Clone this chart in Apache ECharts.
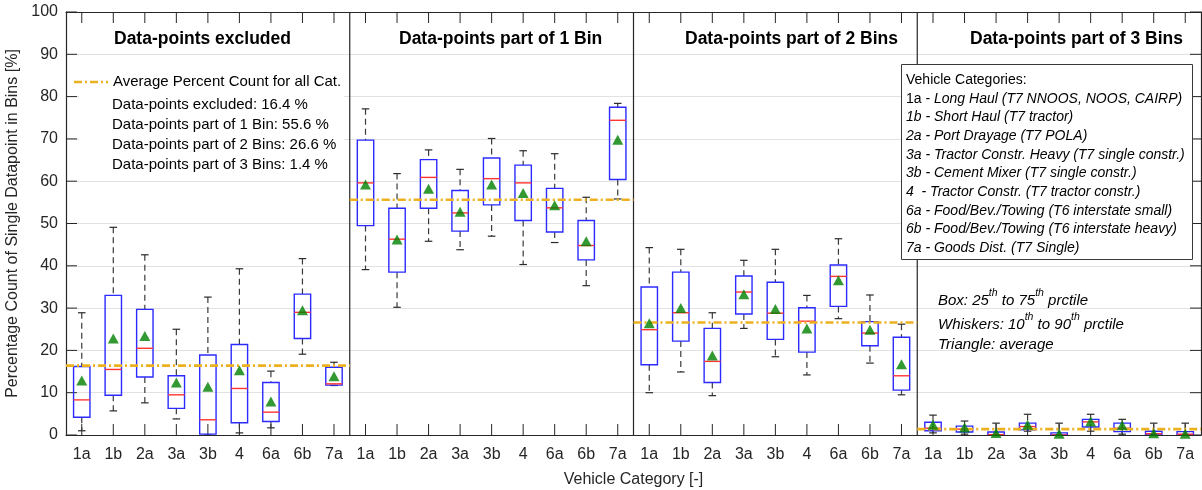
<!DOCTYPE html>
<html>
<head>
<meta charset="utf-8">
<script src="https://cdn.jsdelivr.net/npm/echarts@6/dist/echarts.min.js"></script>
<style>
  html, body { margin: 0; padding: 0; background: #ffffff; }
  #chart { width: 1202px; height: 490px; }
</style>
</head>
<body>
<div id="chart"></div>
<script>
// Vehicle category codes (repeated in every panel)
const vehicleCodes = ['1a', '1b', '2a', '3a', '3b', '4', '6a', '6b', '7a'];

// Value axis tick positions [%]
const yTicks = [0, 10, 20, 30, 40, 50, 60, 70, 80, 90, 100];

// Panel headings and the overall average for each panel [%]
const panelTitles = [
  'Data-points excluded',
  'Data-points part of 1 Bin',
  'Data-points part of 2 Bins',
  'Data-points part of 3 Bins'
];
const panelAverages = [16.4, 55.6, 26.6, 1.4];

// Box statistics per category: [p10, p25, median, p75, p90]
const boxExcluded = [
  [1.0, 4.2, 8.3, 16.2, 28.9],
  [5.7, 9.4, 15.5, 33.0, 49.1],
  [7.6, 13.7, 20.5, 29.7, 42.6],
  [3.8, 6.3, 9.5, 14.0, 25.0],
  [0.0, 0.2, 3.6, 18.9, 32.6],
  [0.5, 2.9, 11.0, 21.4, 39.3],
  [1.7, 3.2, 5.4, 12.4, 15.1],
  [19.1, 22.8, 29.0, 33.3, 41.7],
  [11.7, 11.8, 12.1, 16.0, 17.2]
];
const boxOneBin = [
  [39.1, 49.5, 59.6, 69.7, 77.1],
  [30.2, 38.5, 46.3, 53.6, 61.8],
  [45.8, 53.6, 60.9, 65.1, 67.4],
  [43.8, 48.2, 52.5, 57.8, 62.8],
  [47.0, 54.4, 60.6, 65.5, 70.1],
  [40.3, 50.7, 59.6, 63.8, 67.2],
  [45.5, 48.0, 53.7, 58.3, 66.5],
  [35.3, 41.4, 44.8, 50.7, 56.2],
  [55.8, 60.4, 74.4, 77.5, 78.4]
];
const boxTwoBins = [
  [10.0, 16.6, 24.9, 35.0, 44.3],
  [14.9, 22.2, 28.9, 38.5, 43.9],
  [9.3, 12.4, 17.4, 25.2, 28.9],
  [25.2, 28.6, 33.8, 37.6, 41.3],
  [18.5, 22.6, 28.8, 36.1, 43.9],
  [14.2, 19.6, 26.9, 30.1, 33.0],
  [27.5, 30.4, 37.5, 40.2, 46.4],
  [17.0, 21.1, 24.1, 26.8, 33.1],
  [9.5, 10.6, 14.0, 23.1, 26.2]
];
const boxThreeBins = [
  [0.5, 1.0, 1.6, 3.0, 4.7],
  [0.2, 0.7, 1.4, 2.1, 3.3],
  [0.0, 0.0, 0.1, 0.7, 2.8],
  [0.9, 1.2, 2.0, 2.8, 4.9],
  [0.0, 0.0, 0.0, 0.5, 2.8],
  [0.9, 1.9, 3.1, 3.7, 4.9],
  [0.2, 0.8, 1.6, 2.8, 3.7],
  [0.0, 0.0, 0.3, 0.9, 2.8],
  [0.0, 0.0, 0.2, 0.8, 2.8]
];

// Mean value per category (triangles)
const meanExcluded = [12.9, 22.8, 23.4, 12.4, 11.4, 15.3, 7.9, 29.5, 13.9];
const meanOneBin = [59.2, 46.2, 58.2, 52.8, 59.2, 57.2, 54.3, 45.8, 69.8];
const meanTwoBins = [26.4, 30.0, 18.8, 33.3, 29.8, 25.2, 36.6, 24.9, 16.7];
const meanThreeBins = [2.4, 1.8, 0.5, 2.4, 0.3, 3.2, 2.3, 0.4, 0.3];

// Legend text for the category codes
const categoryDescriptions = [
  ['1a', 'Long Haul (T7 NNOOS, NOOS, CAIRP)'],
  ['1b', 'Short Haul (T7 tractor)'],
  ['2a', 'Port Drayage (T7 POLA)'],
  ['3a', 'Tractor Constr. Heavy (T7 single constr.)'],
  ['3b', 'Cement Mixer (T7 single constr.)'],
  ['4 ', 'Tractor Constr. (T7 tractor constr.)'],
  ['6a', 'Food/Bev./Towing (T6 interstate small)'],
  ['6b', 'Food/Bev./Towing (T6 interstate heavy)'],
  ['7a', 'Goods Dist. (T7 Single)']
];

const panelBoxes = [boxExcluded, boxOneBin, boxTwoBins, boxThreeBins];
const panelMeans = [meanExcluded, meanOneBin, meanTwoBins, meanThreeBins];
const nCat = vehicleCodes.length;

// Flatten into one axis of 36 slots
const axisCategories = [];
const boxData = [];
const meanData = [];
const xTickData = [];
panelBoxes.forEach(function (boxes, p) {
  boxes.forEach(function (b, i) {
    axisCategories.push(vehicleCodes[i]);
    boxData.push([p * nCat + i].concat(b));
    meanData.push([p * nCat + i, panelMeans[p][i]]);
    xTickData.push([p * nCat + i]);
  });
});
const yTickData = yTicks.map(function (v) { return [0, v]; });
const averageData = panelAverages.map(function (v, p) { return [p, v]; });
const dividerData = [[1], [2], [3]];

const FONT = '"Liberation Sans", Arial, Helvetica, sans-serif';
const AXIS_COLOR = '#262626';
const AVG_COLOR = '#EDB120';
const AVG_DASH = [8, 3, 2, 3];
const TICK_LEN = 11;

function renderBox(params, api) {
  const x = api.value(0);
  const band = api.size([1, 0])[0];
  const half = band * 0.26;
  const capHalf = band * 0.12;
  const pts = [1, 2, 3, 4, 5].map(function (d) { return api.coord([x, api.value(d)]); });
  const cx = pts[0][0];
  const y10 = pts[0][1], y25 = pts[1][1], y50 = pts[2][1], y75 = pts[3][1], y90 = pts[4][1];
  const whisker = { stroke: '#3a3a3a', lineWidth: 1.2, lineDash: [6, 4] };
  const cap = { stroke: '#2a2a2a', lineWidth: 1.2 };
  return {
    type: 'group',
    children: [
      { type: 'line', shape: { x1: cx, y1: y90, x2: cx, y2: y75 }, style: whisker },
      { type: 'line', shape: { x1: cx, y1: y25, x2: cx, y2: y10 }, style: whisker },
      { type: 'line', shape: { x1: cx - capHalf, y1: y90, x2: cx + capHalf, y2: y90 }, style: cap },
      { type: 'line', shape: { x1: cx - capHalf, y1: y10, x2: cx + capHalf, y2: y10 }, style: cap },
      { type: 'rect', shape: { x: cx - half, y: y75, width: 2 * half, height: y25 - y75 },
        style: { stroke: '#2b2bff', fill: null, lineWidth: 1.4 } },
      { type: 'line', shape: { x1: cx - half, y1: y50, x2: cx + half, y2: y50 },
        style: { stroke: '#ff3535', lineWidth: 1.4 } }
    ]
  };
}

function renderAverage(params, api) {
  const p = api.value(0);
  const v = api.value(1);
  const band = api.size([1, 0])[0];
  const a = api.coord([p * nCat, v]);
  const b = api.coord([p * nCat + nCat - 1, v]);
  return {
    type: 'line',
    shape: { x1: a[0] - band / 2, y1: a[1], x2: b[0] + band / 2, y2: b[1] },
    style: { stroke: AVG_COLOR, lineWidth: 2.6, lineDash: AVG_DASH }
  };
}

function renderDivider(params, api) {
  const p = api.value(0);
  const a = api.coord([p * nCat - 1, 0]);
  const b = api.coord([p * nCat, 100]);
  const x = (a[0] + b[0]) / 2;
  return {
    type: 'line',
    shape: { x1: x, y1: a[1], x2: x, y2: b[1] },
    style: { stroke: AXIS_COLOR, lineWidth: 1.2 }
  };
}

// Inward tick marks on the bottom and top edges, one per category
function renderXTick(params, api) {
  const i = api.value(0);
  const lo = api.coord([i, yTicks[0]]);
  const hi = api.coord([i, yTicks[yTicks.length - 1]]);
  const st = { stroke: AXIS_COLOR, lineWidth: 1 };
  return {
    type: 'group',
    children: [
      { type: 'line', shape: { x1: lo[0], y1: lo[1], x2: lo[0], y2: lo[1] - TICK_LEN }, style: st },
      { type: 'line', shape: { x1: hi[0], y1: hi[1], x2: hi[0], y2: hi[1] + TICK_LEN }, style: st }
    ]
  };
}

// Inward tick marks on the left and right edges, one per value tick
function renderYTick(params, api) {
  const v = api.value(1);
  const band = api.size([1, 0])[0];
  const l = api.coord([0, v]);
  const r = api.coord([axisCategories.length - 1, v]);
  const xl = l[0] - band / 2;
  const xr = r[0] + band / 2;
  const st = { stroke: AXIS_COLOR, lineWidth: 1 };
  return {
    type: 'group',
    children: [
      { type: 'line', shape: { x1: xl, y1: l[1], x2: xl + TICK_LEN, y2: l[1] }, style: st },
      { type: 'line', shape: { x1: xr, y1: r[1], x2: xr - TICK_LEN, y2: r[1] }, style: st }
    ]
  };
}

// Annotation graphics
const graphics = [];
const titleLeft = [114, 399, 685, 970];
panelTitles.forEach(function (t, p) {
  graphics.push({
    type: 'text', x: titleLeft[p], y: 39, z: 10,
    style: { text: t, fontFamily: FONT, fontSize: 17.5, fontWeight: 'bold', fill: '#000', verticalAlign: 'middle' }
  });
});

// Average legend in the first panel
graphics.push({ type: 'rect', z: 9, shape: { x: 79, y: 68, width: 265, height: 108 }, style: { fill: '#ffffff' } });
graphics.push({ type: 'line', z: 10, shape: { x1: 74, y1: 82, x2: 108, y2: 82 },
  style: { stroke: AVG_COLOR, lineWidth: 2.6, lineDash: AVG_DASH } });
graphics.push({ type: 'text', x: 113, y: 82, z: 10,
  style: { text: 'Average Percent Count for all Cat.', fontFamily: FONT, fontSize: 15, fill: '#000', verticalAlign: 'middle' } });
const avgLines = [
  'Data-points excluded: ' + panelAverages[0].toFixed(1) + ' %',
  'Data-points part of 1 Bin: ' + panelAverages[1].toFixed(1) + ' %',
  'Data-points part of 2 Bins: ' + panelAverages[2].toFixed(1) + ' %',
  'Data-points part of 3 Bins: ' + panelAverages[3].toFixed(1) + ' %'
];
avgLines.forEach(function (t, i) {
  graphics.push({ type: 'text', x: 112, y: 105 + i * 20, z: 10,
    style: { text: t, fontFamily: FONT, fontSize: 15, fill: '#000', verticalAlign: 'middle' } });
});

// Category legend box
graphics.push({ type: 'rect', z: 9, shape: { x: 901.5, y: 64.5, width: 291, height: 195 },
  style: { fill: '#ffffff', stroke: '#3a3a3a', lineWidth: 1 } });
graphics.push({ type: 'text', x: 906, y: 80, z: 10,
  style: { text: 'Vehicle Categories:', fontFamily: FONT, fontSize: 14, fill: '#000', verticalAlign: 'middle' } });
categoryDescriptions.forEach(function (d, i) {
  const head = i === 0 ? '{u|' + d[0] + ' - }' : '{i|' + d[0] + ' - }';
  graphics.push({ type: 'text', x: 906, y: 98.7 + i * 18.7, z: 10,
    style: {
      text: head + '{i|' + d[1] + '}',
      fontFamily: FONT, fontSize: 14, fill: '#000', verticalAlign: 'middle',
      rich: {
        u: { fontFamily: FONT, fontSize: 14, fontStyle: 'normal', fill: '#000' },
        i: { fontFamily: FONT, fontSize: 14, fontStyle: 'italic', fill: '#000' }
      }
    } });
});

// Box plot key
const keyRich = {
  n: { fontFamily: FONT, fontSize: 15, fontStyle: 'italic', fill: '#000', lineHeight: 20, verticalAlign: 'bottom' },
  s: { fontFamily: FONT, fontSize: 10.5, fontStyle: 'italic', fill: '#000', lineHeight: 20, verticalAlign: 'top' }
};
[
  ['{n|Box: 25}{s|th}{n| to 75}{s|th}{n| prctile}', 298],
  ['{n|Whiskers: 10}{s|th}{n| to 90}{s|th}{n| prctile}', 322],
  ['{n|Triangle: average}', 342]
].forEach(function (k) {
  graphics.push({ type: 'text', x: 938, y: k[1], z: 10,
    style: { text: k[0], rich: keyRich, verticalAlign: 'middle' } });
});

const chart = echarts.init(document.getElementById('chart'), null, { renderer: 'canvas' });

const catAxisBase = {
  type: 'category', data: axisCategories, z: 3,
  axisLine: { show: true, onZero: false, lineStyle: { color: AXIS_COLOR, width: 1.2 } },
  axisTick: { show: false },
  splitLine: { show: false }
};
chart.setOption({
  backgroundColor: '#ffffff',
  animation: false,
  grid: { left: 66, right: 1, top: 12, bottom: 55, containLabel: false, outerBoundsMode: 'none' },
  xAxis: [
    Object.assign({}, catAxisBase, {
      position: 'bottom',
      name: 'Vehicle Category [-]', nameLocation: 'middle', nameGap: 37,
      nameTextStyle: { fontFamily: FONT, fontSize: 16, color: AXIS_COLOR },
      axisLabel: { show: true, interval: 0, fontFamily: FONT, fontSize: 16, color: AXIS_COLOR, margin: 12 }
    }),
    Object.assign({}, catAxisBase, {
      position: 'top',
      axisLabel: { show: false }
    })
  ],
  yAxis: [
    {
      type: 'value', position: 'left', min: yTicks[0], max: yTicks[yTicks.length - 1], interval: 10, z: 1,
      name: 'Percentage Count of Single Datapoint in Bins [%]', nameLocation: 'middle', nameGap: 40,
      nameTextStyle: { fontFamily: FONT, fontSize: 16, color: AXIS_COLOR },
      axisLine: { show: true, onZero: false, lineStyle: { color: AXIS_COLOR, width: 1.2 } },
      axisTick: { show: false },
      axisLabel: { show: true, fontFamily: FONT, fontSize: 16, color: AXIS_COLOR, margin: 8 },
      splitLine: { show: true, lineStyle: { color: '#e2e2e2', width: 1.2 } }
    },
    {
      type: 'value', position: 'right', min: yTicks[0], max: yTicks[yTicks.length - 1], interval: 10, z: 3,
      axisLine: { show: true, onZero: false, lineStyle: { color: AXIS_COLOR, width: 1.2 } },
      axisTick: { show: false },
      axisLabel: { show: false },
      splitLine: { show: false }
    }
  ],
  series: [
    {
      type: 'custom', name: 'xTicks', renderItem: renderXTick, data: xTickData,
      encode: { x: 0 }, z: 2, clip: false, silent: true
    },
    {
      type: 'custom', name: 'yTicks', renderItem: renderYTick, data: yTickData,
      encode: { x: 0, y: 1 }, z: 2, clip: false, silent: true
    },
    {
      type: 'custom', name: 'boxes', renderItem: renderBox, data: boxData,
      encode: { x: 0, y: [1, 2, 3, 4, 5] }, z: 3, clip: false
    },
    {
      type: 'custom', name: 'dividers', renderItem: renderDivider, data: dividerData,
      encode: { x: 0 }, z: 2, clip: false
    },
    {
      type: 'custom', name: 'averages', renderItem: renderAverage, data: averageData,
      encode: { x: 0, y: 1 }, z: 4, clip: false
    },
    {
      type: 'scatter', name: 'mean', data: meanData, symbol: 'triangle', symbolSize: [11, 10],
      itemStyle: { color: '#008000' }, z: 5, clip: false
    }
  ],
  graphic: graphics
});
</script>
</body>
</html>
